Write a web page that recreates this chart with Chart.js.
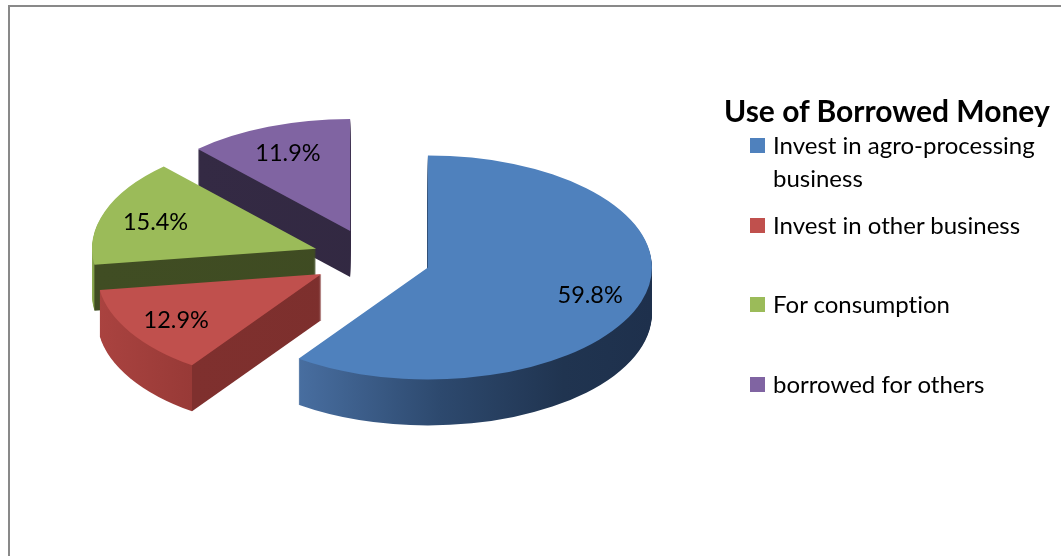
<!DOCTYPE html>
<html><head><meta charset="utf-8">
<script src="https://cdn.jsdelivr.net/npm/chart.js@4.4.1/dist/chart.umd.min.js"></script>
<style>
html,body{margin:0;padding:0;background:#fff;overflow:hidden;width:1061px;height:556px;position:relative;}
#frame{position:absolute;left:8px;top:5px;width:1100px;height:600px;border:2px solid #898989;box-sizing:border-box;}
#c{position:absolute;left:0;top:0;}
.lg{position:absolute;white-space:nowrap;color:#000;font-family:Lato,'Open Sans',sans-serif;font-variant-ligatures:none;}
.sw{position:absolute;width:15px;height:15px;}
</style></head><body>
<div id="frame"></div>
<canvas id="c" width="1061" height="556"></canvas>
<div id="legend"></div>
<script>
// ---- data ----
const legendTitle = 'Use of Borrowed Money';
const categories = [['Invest in agro-processing', 'business'], 'Invest in other business', 'For consumption', 'borrowed for others'];
const shares = [59.8, 12.9, 15.4, 11.9];
const shareLabels = ['59.8%', '12.9%', '15.4%', '11.9%'];

// ---- style ----
const topColors = ['#4F81BD', '#C0504D', '#9BBB59', '#8064A2'];
const wallStyles = [
  {stops: [[0, 'rgb(72,110,160)'], [0.4, 'rgb(45,73,110)'], [0.75, 'rgb(32,52,80)'], [1, 'rgb(30,48,76)']]},
  {side: ['rgb(170,67,64)', 'rgb(152,58,55)'], face: ['rgb(127,48,46)', 'rgb(121,46,44)']},
  {side: ['rgb(140,170,80)', 'rgb(130,160,74)'], face: ['rgb(64,77,35)', 'rgb(62,74,34)']},
  {side: ['rgb(100,78,128)', 'rgb(95,74,122)'], face: ['rgb(52,42,68)', 'rgb(48,39,63)']}
];
const SQUASH = 0.5, DEPTH = 46, EXPLODE = 59, RADIUS = 224, LABEL_POS = 0.76;
const FONT = "Lato, 'Open Sans', sans-serif";

function squash(ctx, cx, cy) { ctx.translate(cx, cy); ctx.scale(1, SQUASH); ctx.translate(-cx, -cy); }

const pie3d = {
  id: 'pie3d',
  afterDatasetUpdate(chart, args) {
    args.meta.data.forEach(el => {
      const mid = (el.startAngle + el.endAngle) / 2;
      el.x += Math.cos(mid) * EXPLODE;
      el.y += Math.sin(mid) * EXPLODE;
    });
  },
  beforeDatasetsDraw(chart) {
    const ctx = chart.ctx, ca = chart.chartArea;
    const cx = (ca.left + ca.right) / 2, cy = (ca.top + ca.bottom) / 2;
    const els = chart.getDatasetMeta(0).data;
    const order = els.map((e, i) => i).sort((a, b) => {
      const ma = (els[a].startAngle + els[a].endAngle) / 2, mb = (els[b].startAngle + els[b].endAngle) / 2;
      return Math.sin(ma) - Math.sin(mb);
    });
    order.forEach(i => {
      const el = els[i], R = el.outerRadius, st = wallStyles[i];
      const pts = [el.startAngle, el.endAngle].map(a => el.x + Math.cos(a) * R);
      const xMax = el.x + R;
      let grad;
      if (st.stops) {
        const x0 = Math.min(pts[1], el.x);
        grad = ctx.createLinearGradient(x0, 0, xMax, 0);
        st.stops.forEach(s => grad.addColorStop(s[0], s[1]));
      } else {
        const xMin = el.x - R, corner = pts[0];
        grad = ctx.createLinearGradient(xMin, 0, xMax, 0);
        const f = (corner - xMin) / (xMax - xMin);
        grad.addColorStop(0, st.side[0]);
        grad.addColorStop(Math.max(0, f - 0.001), st.side[1]);
        grad.addColorStop(Math.min(1, f + 0.001), st.face[0]);
        grad.addColorStop(1, st.face[1]);
      }
      for (let d = DEPTH; d >= 1; d--) {
        ctx.save();
        ctx.translate(0, d);
        squash(ctx, cx, cy);
        ctx.beginPath();
        ctx.moveTo(el.x, el.y);
        ctx.arc(el.x, el.y, R, el.startAngle, el.endAngle);
        ctx.closePath();
        ctx.fillStyle = grad;
        ctx.fill();
        ctx.restore();
      }
    });
    ctx.save();
    squash(ctx, cx, cy);
  },
  afterDatasetsDraw(chart) {
    const ctx = chart.ctx, ca = chart.chartArea;
    ctx.restore();
    const cy = (ca.top + ca.bottom) / 2;
    const els = chart.getDatasetMeta(0).data;
    ctx.save();
    ctx.fillStyle = '#000';
    ctx.font = '23.5px ' + FONT;
    ctx.textAlign = 'center';
    ctx.textBaseline = 'middle';
    els.forEach((el, i) => {
      const mid = (el.startAngle + el.endAngle) / 2;
      const r = el.outerRadius * LABEL_POS;
      const x = el.x + Math.cos(mid) * r;
      const yu = el.y + Math.sin(mid) * r;
      ctx.fillText(shareLabels[i], x, cy + (yu - cy) * SQUASH + 2);
    });
    ctx.restore();
  }
};

const chart = new Chart(document.getElementById('c'), {
  type: 'pie',
  data: {
    labels: categories,
    datasets: [{data: shares, backgroundColor: topColors, borderWidth: 0, clip: false}]
  },
  options: {
    responsive: false,
    animation: false,
    events: [],
    radius: RADIUS,
    layout: {padding: {left: 0, right: 317.6, top: 0, bottom: 39}},
    plugins: {legend: {display: false}, tooltip: {enabled: false}, title: {display: false}}
  },
  plugins: [pie3d]
});

// ---- HTML legend ----
(function () {
  const host = document.getElementById('legend');
  const mctx = document.createElement('canvas').getContext('2d');
  function placeText(txt, left, baseline, size, weight) {
    mctx.font = weight + ' ' + size + 'px ' + FONT;
    const m = mctx.measureText(txt);
    const asc = m.fontBoundingBoxAscent, desc = m.fontBoundingBoxDescent;
    const d = document.createElement('div');
    d.className = 'lg';
    d.textContent = txt;
    d.style.cssText = 'left:' + left + 'px;top:' + (baseline - asc) + 'px;font-size:' + size + 'px;font-weight:' + weight + ';line-height:' + (asc + desc) + 'px;';
    host.appendChild(d);
  }
  placeText(legendTitle, 724, 122, 30, 'bold');
  const labels = chart.data.labels;
  const firstTop = 138, pitch = 79.7, lineGap = 33;
  labels.forEach((lab, i) => {
    const top = firstTop + pitch * i;
    const sw = document.createElement('div');
    sw.className = 'sw';
    sw.style.left = '750px';
    sw.style.top = top + 'px';
    sw.style.background = topColors[i];
    host.appendChild(sw);
    const lines = Array.isArray(lab) ? lab : [lab];
    lines.forEach((ln, k) => placeText(ln, 773, top + 16 + lineGap * k, 24, 'normal'));
  });
})();
</script>
</body></html>
